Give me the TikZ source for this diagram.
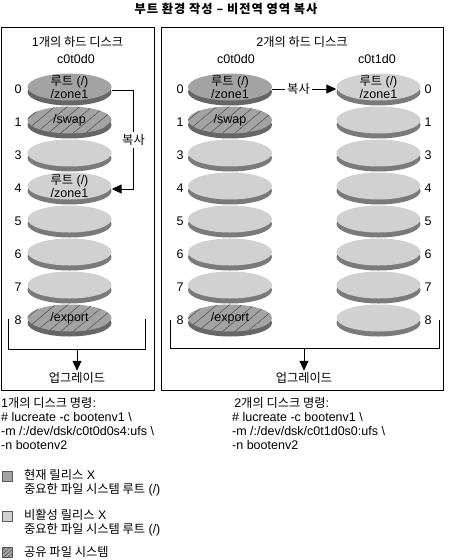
\documentclass[tikz,border=0pt]{standalone}
\usepackage{fontspec}
\setmainfont{Liberation Sans}
\newfontfamily\kr[Scale=0.98]{Noto Sans CJK KR}
\newfontfamily\krwide[Scale=0.98, LetterSpace=8]{Noto Sans CJK KR}
\usetikzlibrary{shapes.geometric,shadows,patterns.meta,arrows.meta}

\definecolor{curface}{gray}{0.64}
\definecolor{curside}{gray}{0.40}
\definecolor{offface}{gray}{0.82}
\definecolor{offside}{gray}{0.48}
\definecolor{hatchline}{gray}{0.30}
\definecolor{keyline}{gray}{0.35}

\begin{document}
\begin{tikzpicture}[x=1pt, y=-1pt, font=\fontsize{12.5}{13}\selectfont,
  disk/.style={ellipse, draw=none, minimum width=84pt, minimum height=27pt,
               inner sep=0pt, fill=#1face,
               drop shadow={shadow xshift=0pt, shadow yshift=-5pt,
                            opacity=1, fill=#1side}},
  disk/.default=off,
  hatched/.style={disk=cur, postaction={pattern={Lines[angle=40,
               distance=8pt, line width=0.5pt]}, pattern color=hatchline}},
  txt/.style={align=center, inner sep=0pt},
  cmd/.style={align=left, anchor=north west, inner sep=0pt,
              font=\fontsize{12.5}{14}\selectfont},
  key/.style={draw=keyline, minimum size=10pt, inner sep=0pt},
  keytxt/.style={align=left, anchor=west, inner sep=0pt,
                 font=\fontsize{12.5}{14}\selectfont},
  line/.style={line width=1pt},
  arr/.style={-{Triangle[length=10pt, width=9pt]}, line width=1pt}
]
  \useasboundingbox (0,0) rectangle (448,560);

  \node[font=\krwide\bfseries\fontsize{12.5}{14}\selectfont] (title) at (226,9)
        {부트 환경 작성 – 비전역 영역 복사};

  % frames
  \draw[line] (1,27) rectangle (154,390);
  \draw[line] (161,27) rectangle (443,390);

  \node (hd1) at (77.5,42) {1{\kr 개의 하드 디스크}};
  \node (hd2) at (302,42) {2{\kr 개의 하드 디스크}};
  \node (la) at (76,59) {c0t0d0};
  \node (ra) at (236,59) {c0t0d0};
  \node (rb) at (377,59) {c0t1d0};

  % rows and columns
  \coordinate (colL) at (69.5,0);
  \coordinate (colA) at (230,0);
  \coordinate (colB) at (378.5,0);
  \foreach \n/\y in {0/87,1/120,3/153,4/186,5/219,6/252,7/285,8/318} {
    \coordinate (row\n) at (0,\y);
    \node[inner sep=0pt] (lnum\n) at (18,\y+2) {\n};
    \node[inner sep=0pt] (anum\n) at (180,\y+2) {\n};
    \node[inner sep=0pt] (bnum\n) at (428,\y+2) {\n};
  }

  % one disk
  \node[disk=cur] (la0) at (colL |- row0) {};
  \node[hatched]  (la1) at (colL |- row1) {};
  \node[disk]     (la3) at (colL |- row3) {};
  \node[disk]     (la4) at (colL |- row4) {};
  \node[disk]     (la5) at (colL |- row5) {};
  \node[disk]     (la6) at (colL |- row6) {};
  \node[disk]     (la7) at (colL |- row7) {};
  \node[hatched]  (la8) at (colL |- row8) {};
  \node[txt] (la0txt) at (la0) {{\kr 루트} (/)\\/zone1};
  \node[txt] (la1txt) at (la1) {/swap};
  \node[txt] (la4txt) at (la4) {{\kr 루트} (/)\\/zone1};
  \node[txt] (la8txt) at (la8) {/export};

  % two disks
  \node[disk=cur] (ra0) at (colA |- row0) {};
  \node[hatched]  (ra1) at (colA |- row1) {};
  \foreach \n in {3,4,5,6,7}
    \node[disk] (ra\n) at (colA |- row\n) {};
  \node[hatched]  (ra8) at (colA |- row8) {};
  \node[txt] (ra0txt) at (ra0) {{\kr 루트} (/)\\/zone1};
  \node[txt] (ra1txt) at (ra1) {/swap};
  \node[txt] (ra8txt) at (ra8) {/export};

  \foreach \n in {0,1,3,4,5,6,7,8}
    \node[disk] (rb\n) at (colB |- row\n) {};
  \node[txt] (rb0txt) at (rb0) {{\kr 루트} (/)\\/zone1};

  % copy
  \node[inner sep=2pt, fill=white] (lcopy) at (133.5,140) {\kr 복사};
  \draw[line] ([yshift=-3pt]la0.east) -| (lcopy.north);
  \draw[arr] (lcopy.south) |- ([yshift=-3pt]la4.east);

  \node[inner sep=2.5pt] (rcopy) at (298.5,89) {\kr 복사};
  \draw[line] ([yshift=-2pt]ra0.east) -- (rcopy);
  \draw[arr] (rcopy) -- ([yshift=-2pt]rb0.west);

  % upgrade
  \draw[line] (8,319) -- (8,349) -- (145,349) -- (145,319);
  \coordinate (lbot) at (77,349);
  \node[inner sep=1.5pt] (lup) at (77,378) {\kr 업그레이드};
  \draw[arr] (lbot) -- (lup);

  \draw[line] (170,320) -- (170,348) -- (439,348) -- (439,320);
  \coordinate (rbot) at (304,348);
  \node[inner sep=1.5pt] (rup) at (304,378) {\kr 업그레이드};
  \draw[arr] (rbot) -- (rup);

  % commands
  \node[cmd] (cmd1) at (1,397)
        {1{\kr 개의 디스크 명령}:\\
         \# lucreate -c bootenv1 \textbackslash\\
         -m /:/dev/dsk/c0t0d0s4:ufs \textbackslash\\
         -n bootenv2};
  \node[cmd] (cmd2) at (232,397)
        {\,2{\kr 개의 디스크 명령}:\\
         \# lucreate -c bootenv1 \textbackslash\\
         -m /:/dev/dsk/c0t1d0s0:ufs \textbackslash\\
         -n bootenv2};

  % legend
  \node[key, fill=curface] (kcur) at (7,476) {};
  \node[keytxt] (kcurtxt) at (24,483)
        {{\kr 현재 릴리스} X\\{\kr 중요한 파일 시스템 루트} (/)};
  \node[key, fill=offface] (koff) at (7,516) {};
  \node[keytxt] (kofftxt) at (24,523)
        {{\kr 비활성 릴리스} X\\{\kr 중요한 파일 시스템 루트} (/)};
  \node[key, fill=curface, postaction={pattern={Lines[angle=40,
        distance=3pt, line width=0.5pt]}, pattern color=hatchline}]
        (kshr) at (7,552) {};
  \node[keytxt] (kshrtxt) at (24,552) {\kr 공유 파일 시스템};
\end{tikzpicture}
\end{document}
